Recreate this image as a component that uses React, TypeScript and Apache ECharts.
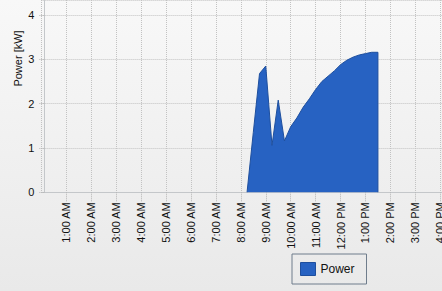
import React, { useEffect, useRef } from "react";
import * as echarts from "echarts";

// Hours of the day (decimal) and power in kW
const hours = [8.25, 8.5, 8.75, 9.0, 9.25, 9.5, 9.75, 10.0, 10.25, 10.5, 10.75, 11.0, 11.25, 11.5, 11.75, 12.0, 12.25, 12.5, 12.75, 13.0, 13.25, 13.5, 13.5];
const power = [0, 1.35, 2.68, 2.85, 1.06, 2.08, 1.16, 1.48, 1.68, 1.92, 2.11, 2.32, 2.5, 2.62, 2.74, 2.88, 2.98, 3.05, 3.1, 3.13, 3.16, 3.16, 0];
const hourLabels = ["12:00 AM", "1:00 AM", "2:00 AM", "3:00 AM", "4:00 AM", "5:00 AM", "6:00 AM", "7:00 AM", "8:00 AM", "9:00 AM", "10:00 AM", "11:00 AM", "12:00 PM", "1:00 PM", "2:00 PM", "3:00 PM", "4:00 PM"];
const yTicks = [0, 1, 2, 3, 4];

const FONT = "'Liberation Sans', Arial, sans-serif";

export default function App() {
  const ref = useRef<HTMLDivElement>(null);
  useEffect(() => {
    if (!ref.current) return;
    const chart = echarts.init(ref.current, null, { renderer: "svg" });
    const data = hours.map((h, i) => [h, power[i]]);
    chart.setOption({
      animation: false,
      backgroundColor: "transparent",
      textStyle: { fontFamily: FONT },
      grid: { left: 41.4, right: 0, top: 0, bottom: 98.7, containLabel: false, outerBoundsMode: "none" },
      graphic: [
        {
          type: "text",
          x: 18,
          y: 58.5,
          rotation: Math.PI / 2,
          style: {
            text: "Power [kW]",
            fontFamily: FONT,
            fontSize: 11,
            fill: "#111",
            align: "center",
            verticalAlign: "middle",
          },
        },
      ],
      legend: {
        left: 292,
        top: 254,
        orient: "horizontal",
        padding: [8, 12, 8, 8],
        borderColor: "#6f7d8c",
        borderWidth: 1,
        borderRadius: 0,
        itemWidth: 15,
        itemHeight: 13,
        itemGap: 7,
        icon: "rect",
        textStyle: { fontFamily: FONT, fontSize: 12, color: "#111", padding: [0, 0, 0, 0] },
        data: [{ name: "Power", itemStyle: { color: "#2762c2", borderColor: "#1e4f9e", borderWidth: 1 } }],
      },
      xAxis: {
        type: "value",
        min: 0,
        max: 16.07,
        interval: 1,
        axisLine: { show: true, onZero: false, lineStyle: { color: "#c4c7ca", width: 1 } },
        axisTick: { show: true, length: 10, lineStyle: { color: "#b4b4b4", type: [1, 1] } },
        splitLine: { show: true, lineStyle: { color: "#c2c2c2", type: [1, 1] } },
        axisLabel: {
          rotate: 90,
          margin: 10,
          fontFamily: FONT,
          fontSize: 11,
          color: "#111",
          showMinLabel: false,
          formatter: (v: number) => (Number.isInteger(v) && v > 0 ? hourLabels[v] : ""),
        },
      },
      yAxis: {
        type: "value",
        min: 0,
        max: 4.34,
        interval: 1,
        offset: -3,
        axisLine: { show: true, lineStyle: { color: "#c4c7ca", width: 1 } },
        axisTick: { show: true, length: 6, lineStyle: { color: "#b4b4b4", type: [1, 1] } },
        splitLine: { show: true, lineStyle: { color: "#c2c2c2", type: [1, 1] } },
        axisLabel: {
          margin: 10,
          fontFamily: FONT,
          fontSize: 11,
          color: "#111",
          showMaxLabel: false,
          formatter: (v: number) => (yTicks.indexOf(v) >= 0 ? String(v) : ""),
        },
      },
      series: [
        {
          name: "Power",
          type: "line",
          data,
          showSymbol: false,
          symbol: "none",
          lineStyle: { color: "#1e4f9e", width: 1 },
          itemStyle: { color: "#2762c2" },
          areaStyle: { color: "#2762c2", opacity: 1 },
        },
      ],
    });
    return () => chart.dispose();
  }, []);
  return (
    <div
      style={{
        position: "fixed",
        left: 0,
        top: 0,
        width: 442,
        height: 291,
        background: "linear-gradient(#f8f8f8, #e9e9e9)",
      }}
    >
      <div ref={ref} style={{ width: 442, height: 291 }} />
    </div>
  );
}
